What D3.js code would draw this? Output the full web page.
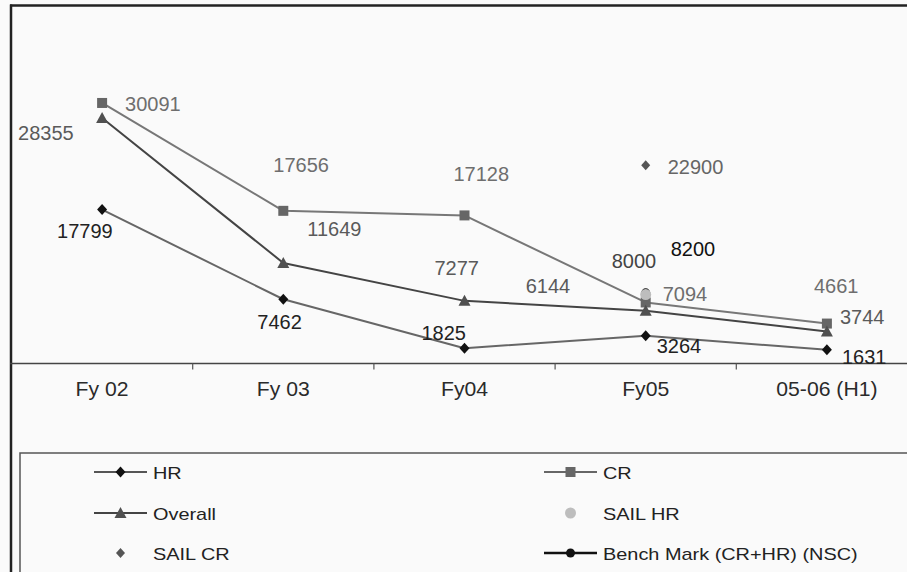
<!DOCTYPE html>
<html>
<head>
<meta charset="utf-8">
<script src="https://cdn.jsdelivr.net/npm/d3@7"></script>
<style>
  html, body { margin: 0; padding: 0; background: #fafafa; }
  svg { display: block; }
  text { font-family: "Liberation Sans", Arial, sans-serif; }
</style>
</head>
<body>
<svg id="chart" width="907" height="572"></svg>
<script>
// Financial-year categories on the x axis
const categories = ["Fy 02", "Fy 03", "Fy04", "Fy05", "05-06 (H1)"];

// Series values (null where a series has no point)
const hrValues      = [17799, 7462, 1825, 3264, 1631];
const crValues      = [30091, 17656, 17128, 7094, 4661];
const overallValues = [28355, 11649, 7277, 6144, 3744];
const sailHrValues  = [null, null, null, 8000, null];
const sailCrValues  = [null, null, null, 22900, null];
const benchValues   = [null, null, null, 8200, null];

const legendLabels = ["HR", "CR", "Overall", "SAIL HR", "SAIL CR", "Bench Mark (CR+HR) (NSC)"];

// Where each value label sits relative to its point (dx, dy to text start / baseline)
const hrLabelOffsets      = [[-45, 28], [-26, 30], [-43, -8], [11, 17], [15, 14]];
const crLabelOffsets      = [[23, 8], [-10, -39], [-11, -34], [17, -1], [-13, -31]];
const overallLabelOffsets = [[-84, 22], [24, -27], [-30, -26], [-120, -18], [13, -8]];
const sailHrLabelOffsets  = [null, null, null, [-34, -27], null];
const sailCrLabelOffsets  = [null, null, null, [22, 9], null];
const benchLabelOffsets   = [null, null, null, [25, -37], null];

const svg = d3.select("#chart");

const x = d3.scaleBand().domain(categories).range([11.5, 917.5]).paddingInner(0).paddingOuter(0);
const cx = c => x(c) + x.bandwidth() / 2;
const y = d3.scaleLinear().domain([0, 40000]).range([364, 17]);

// Outer chart frame (left and top edges)
svg.append("line").attr("x1", 11).attr("x2", 11).attr("y1", 4.5).attr("y2", 572)
  .attr("stroke", "#222").attr("stroke-width", 2.5);
svg.append("line").attr("x1", 10).attr("x2", 907).attr("y1", 5.5).attr("y2", 5.5)
  .attr("stroke", "#222").attr("stroke-width", 2.5);

// Category axis: baseline, ticks at band edges, centred labels
const axisG = svg.append("g").attr("transform", `translate(0,${y(0) - 0.5})`);
axisG.append("line").attr("x1", 10).attr("x2", 907).attr("y1", 0).attr("y2", 0)
  .attr("stroke", "#444").attr("stroke-width", 1.5);
axisG.selectAll("line.tick").data(categories.slice(1)).join("line")
  .attr("class", "tick")
  .attr("x1", d => x(d)).attr("x2", d => x(d)).attr("y1", 0).attr("y2", 6)
  .attr("stroke", "#555").attr("stroke-width", 1.2);
axisG.selectAll("text").data(categories).join("text")
  .attr("transform", d => `translate(${cx(d)},32) scale(1.06,1)`)
  .attr("text-anchor", "middle")
  .attr("font-size", 20).attr("fill", "#2a2a2a")
  .text(d => d);

// Marker shapes
function drawMarker(g, kind, px, py, fill) {
  if (kind === "diamond") {
    g.append("path").attr("d", `M0,-5.5L5,0L0,5.5L-5,0Z`)
      .attr("transform", `translate(${px},${py})`).attr("fill", fill);
  } else if (kind === "smalldiamond") {
    g.append("path").attr("d", `M0,-5L4.5,0L0,5L-4.5,0Z`)
      .attr("transform", `translate(${px},${py})`).attr("fill", fill);
  } else if (kind === "square") {
    g.append("rect").attr("x", px - 5).attr("y", py - 5).attr("width", 10).attr("height", 10)
      .attr("fill", fill);
  } else if (kind === "triangle") {
    g.append("path").attr("d", `M0,-6L6,5L-6,5Z`)
      .attr("transform", `translate(${px},${py})`).attr("fill", fill);
  } else if (kind === "circle") {
    g.append("circle").attr("cx", px).attr("cy", py).attr("r", 5.5).attr("fill", fill);
  } else if (kind === "smallcircle") {
    g.append("circle").attr("cx", px).attr("cy", py).attr("r", 4.5).attr("fill", fill);
  }
}

const series = [
  { values: hrValues, offsets: hrLabelOffsets, line: "#666", width: 2, marker: "diamond", mfill: "#111", lfill: "#222" },
  { values: crValues, offsets: crLabelOffsets, line: "#777", width: 2, marker: "square", mfill: "#666", lfill: "#6e6e6e" },
  { values: overallValues, offsets: overallLabelOffsets, line: "#444", width: 2, marker: "triangle", mfill: "#505050", lfill: "#5a5a5a" },
  { values: benchValues, offsets: benchLabelOffsets, line: "#111", width: 2.5, marker: "smallcircle", mfill: "#111", lfill: "#111" },
  { values: sailHrValues, offsets: sailHrLabelOffsets, line: null, marker: "circle", mfill: "#bdbdbd", lfill: "#444" },
  { values: sailCrValues, offsets: sailCrLabelOffsets, line: null, marker: "smalldiamond", mfill: "#555", lfill: "#666" }
];

const plot = svg.append("g");
const lineGen = d3.line().defined(d => d.v != null).x(d => cx(d.c)).y(d => y(d.v));

series.forEach(s => {
  const pts = categories.map((c, i) => ({ c, v: s.values[i] }));
  if (s.line) {
    plot.append("path").datum(pts).attr("d", lineGen)
      .attr("fill", "none").attr("stroke", s.line).attr("stroke-width", s.width)
      .attr("stroke-linejoin", "round");
  }
  pts.forEach(p => { if (p.v != null) drawMarker(plot, s.marker, cx(p.c), y(p.v), s.mfill); });
});

// Value labels
series.forEach(s => {
  categories.forEach((c, i) => {
    const v = s.values[i];
    if (v == null) return;
    const off = s.offsets[i];
    plot.append("text")
      .attr("x", cx(c) + off[0]).attr("y", y(v) + off[1])
      .attr("font-size", 20).attr("fill", s.lfill)
      .text(v);
  });
});

// Legend box
const lg = svg.append("g");
lg.append("rect").attr("x", 20).attr("y", 453).attr("width", 900).attr("height", 130)
  .attr("fill", "none").attr("stroke", "#555").attr("stroke-width", 1.5);

const legendItems = [
  { label: legendLabels[0], col: 0, row: 0, line: "#555", marker: "diamond", mfill: "#111" },
  { label: legendLabels[1], col: 1, row: 0, line: "#666", marker: "square", mfill: "#666" },
  { label: legendLabels[2], col: 0, row: 1, line: "#444", marker: "triangle", mfill: "#505050" },
  { label: legendLabels[3], col: 1, row: 1, line: null, marker: "circle", mfill: "#bdbdbd" },
  { label: legendLabels[4], col: 0, row: 2, line: null, marker: "smalldiamond", mfill: "#555" },
  { label: legendLabels[5], col: 1, row: 2, line: "#111", marker: "smallcircle", mfill: "#111" }
];
const colX = [94, 544];
const rowY = [472, 513, 553];
legendItems.forEach(it => {
  const x0 = colX[it.col], yy = rowY[it.row];
  if (it.line) {
    lg.append("line").attr("x1", x0).attr("x2", x0 + 53).attr("y1", yy).attr("y2", yy)
      .attr("stroke", it.line).attr("stroke-width", it.line === "#111" ? 2.5 : 2);
  }
  drawMarker(lg, it.marker, x0 + 26.5, yy, it.mfill);
  lg.append("text").attr("transform", `translate(${x0 + 59},${yy + 7}) scale(1.17,1)`)
    .attr("font-size", 17).attr("fill", "#222").text(it.label);
});
</script>
</body>
</html>
